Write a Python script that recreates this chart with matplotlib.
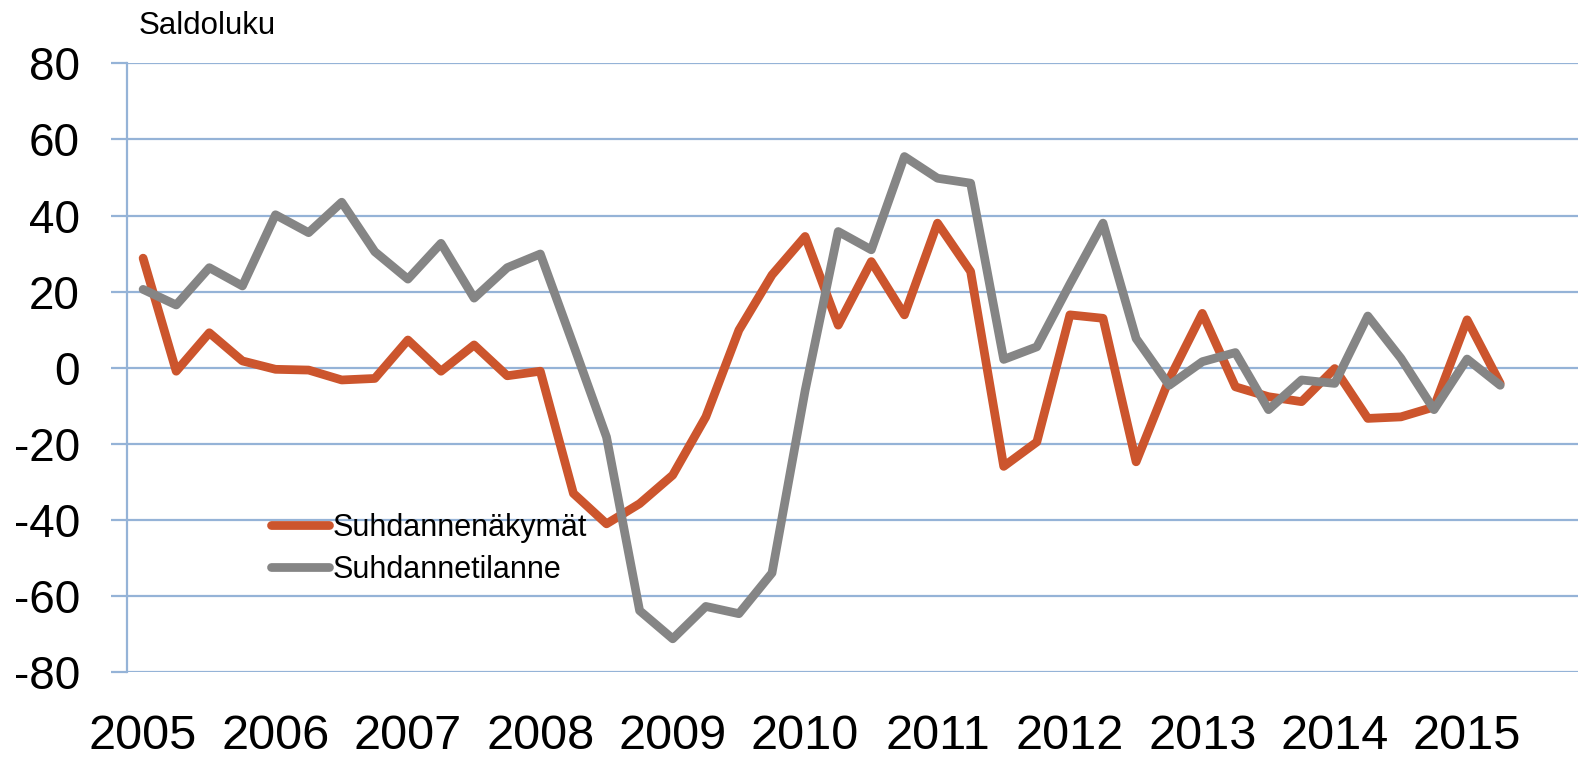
import matplotlib.pyplot as plt

# kvartaalit 2005Q1 - 2015Q2
quarters = list(range(42))
year_pos = list(range(0, 41, 4))
year_labels = [str(y) for y in range(2005, 2016)]

nakymat = [28.8, -0.9, 9.2, 1.8, -0.4, -0.6, -3.2, -2.8, 7.3, -0.9, 6.0, -2.1,
           -0.9, -33.0, -41.0, -35.7, -28.2, -12.9, 9.9, 24.4, 34.5, 11.2, 27.9, 13.9,
           38.0, 25.3, -25.9, -19.5, 13.9, 13.0, -24.7, -3.0, 14.3, -5.0, -7.6, -8.9,
           -0.2, -13.3, -12.9, -10.3, 12.6, -4.1]
tilanne = [20.6, 16.5, 26.3, 21.5, 40.2, 35.5, 43.5, 30.5, 23.3, 32.7, 18.3, 26.3,
           29.9, 6.0, -18.2, -63.8, -71.2, -62.7, -64.6, -53.9, -6.0, 35.8, 31.0, 55.5,
           49.8, 48.5, 2.2, 5.5, 22.0, 38.0, 7.7, -4.6, 1.6, 4.0, -11.0, -3.2,
           -4.1, 13.6, 2.5, -11.0, 2.3, -4.6]

grid_col = '#95B3D7'
plt.rcParams['font.family'] = ['Liberation Sans', 'DejaVu Sans']
plt.rcParams['axes.unicode_minus'] = False

fig = plt.figure(figsize=(15.78, 7.57), dpi=100)
ax = fig.add_axes([0.0802, 0.1119, 0.9198, 0.8045])

ax.plot(quarters, nakymat, color='#CC552D', lw=6.3, label='Suhdannenäkymät',
        solid_joinstyle='round', solid_capstyle='round', zorder=3)
ax.plot(quarters, tilanne, color='#858585', lw=6.3, label='Suhdannetilanne',
        solid_joinstyle='round', solid_capstyle='round', zorder=3)

ax.set_xlim(-0.5, 43.35)
ax.set_ylim(-80, 80)
ax.set_yticks(range(-80, 81, 20))
ax.set_xticks(year_pos)
ax.set_xticklabels(year_labels)

ax.grid(True, axis='y', color=grid_col, lw=1.6)
for s in ['top', 'right', 'bottom']:
    ax.spines[s].set_visible(False)
ax.spines['left'].set_color(grid_col)
ax.spines['left'].set_linewidth(1.6)
ax.tick_params(axis='y', length=11.5, width=1.6, color=grid_col, pad=22, labelsize=33)
ax.tick_params(axis='x', length=0, pad=30, labelsize=35)

ax.legend(loc='center left', bbox_to_anchor=(0.0996, 0.2025), frameon=False,
          fontsize=22, handlelength=1.9, handletextpad=0.1, labelspacing=0.4,
          borderpad=0, borderaxespad=0)

fig.text(139 / 1578, 1 - 34 / 757, 'Saldoluku', fontsize=22.5, va='baseline')

fig.savefig('out.png', dpi=100)
